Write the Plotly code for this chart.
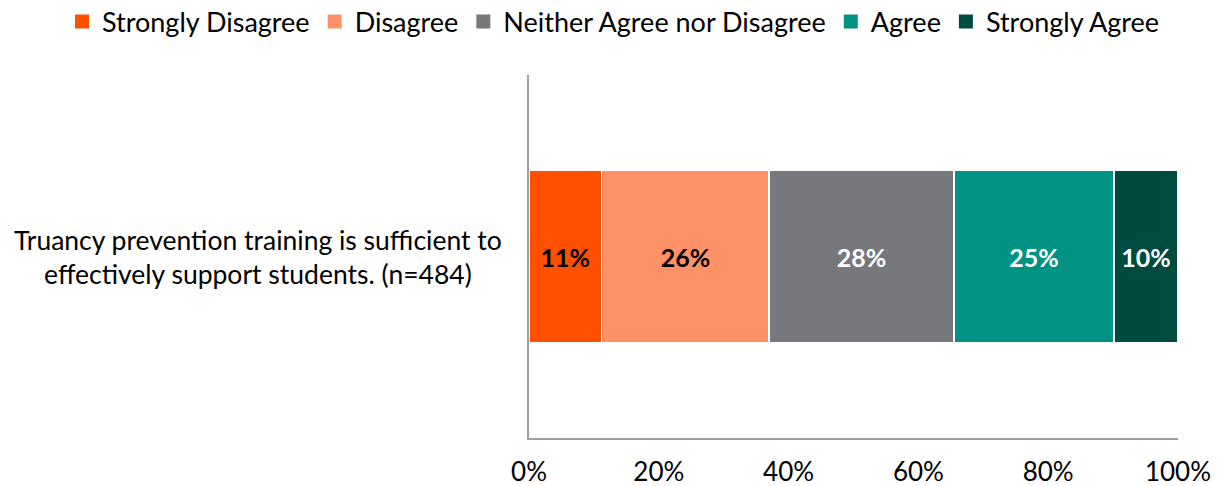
import plotly.graph_objects as go

category = "Truancy prevention training is sufficient to<br>effectively support students. (n=484)"
series = ["Strongly Disagree", "Disagree", "Neither Agree nor Disagree", "Agree", "Strongly Agree"]
values = [11.2, 25.8, 28.5, 24.6, 9.9]
labels = ["11%", "26%", "28%", "25%", "10%"]
colors = ["#FF5000", "#FF9166", "#77787B", "#009383", "#004B40"]
text_colors = ["#000000", "#000000", "#FFFFFF", "#FFFFFF", "#FFFFFF"]
tick_vals = [0, 20, 40, 60, 80, 100]
tick_text = ["0%", "20%", "40%", "60%", "80%", "100%"]

FONT = "Lato, 'Open Sans', sans-serif"
PL, PR, PT, PB = 529, 1178, 75, 438  # plot area in pixels
PW, PH = PR - PL, PB - PT

fig = go.Figure()
for name, v, lab, c, tc in zip(series, values, labels, colors, text_colors):
    fig.add_trace(go.Bar(
        y=[0], x=[v], name=name, orientation="h", showlegend=False,
        marker=dict(color=c, line=dict(color="white", width=1.5)),
        text=[lab], textposition="inside", insidetextanchor="middle",
        textangle=0,
        textfont=dict(family=FONT, size=25, color=tc, weight="bold"),
        hoverinfo="skip", width=0.475,
    ))

# legend entries (square swatches)
for name, c in zip(series, colors):
    fig.add_trace(go.Scatter(
        x=[None], y=[None], name=name, mode="markers",
        marker=dict(symbol="square", size=14, color=c, line=dict(width=0)),
        hoverinfo="skip",
    ))

fig.add_annotation(
    text=category, xref="paper", yref="y", x=(257.5 - PL) / PW, y=0,
    xanchor="center", yanchor="middle", showarrow=False, align="center",
    font=dict(family=FONT, size=26.5, color="#000000"),
)

fig.update_layout(
    barmode="stack",
    width=1220, height=486,
    margin=dict(l=PL, r=1220 - PR, t=PT, b=486 - PB, autoexpand=False),
    paper_bgcolor="white", plot_bgcolor="white",
    font=dict(family=FONT, size=26, color="#000000"),
    showlegend=True,
    legend=dict(
        orientation="h", xref="paper", yref="paper",
        x=(62 - PL) / PW, y=(PB - 22) / PH, xanchor="left", yanchor="middle",
        font=dict(family=FONT, size=27, color="#000000"),
        traceorder="normal", itemwidth=30, borderwidth=0,
    ),
    xaxis=dict(
        range=[0, 100], tickvals=tick_vals, ticktext=tick_text,
        showgrid=False, zeroline=False, showline=True, linecolor="#A0A0A0", linewidth=2,
        ticks="", ticklabelstandoff=10,
        tickfont=dict(family=FONT, size=26, color="#000000"),
    ),
    yaxis=dict(
        range=[-0.5, 0.5], showticklabels=False, showgrid=False, zeroline=False,
        showline=True, linecolor="#A0A0A0", linewidth=2, ticks="",
    ),
)

fig.write_html("out.html")
